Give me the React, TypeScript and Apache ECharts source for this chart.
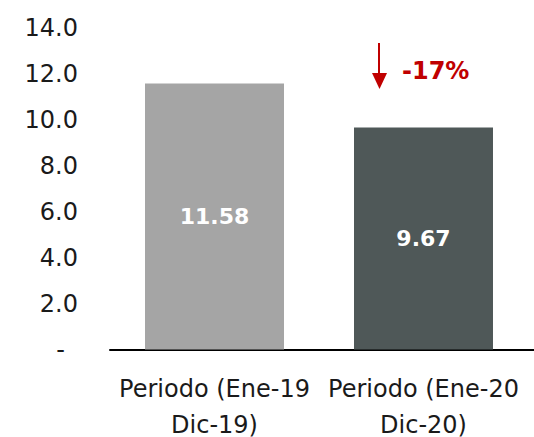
import React, { useEffect, useRef } from "react";
import * as echarts from "echarts";

const categories = ["Periodo (Ene-19\nDic-19)", "Periodo (Ene-20\nDic-20)"];
const values = [11.58, 9.67];
const barColors = ["#A5A5A5", "#4F5858"];
const yTicks = { min: 0, max: 14, interval: 2 };
const changeLabel = "-17%";

const FONT = "DejaVu Sans";

export default function App() {
  const ref = useRef<HTMLDivElement>(null);
  useEffect(() => {
    const chart = echarts.init(ref.current!, undefined, { renderer: "svg" });
    chart.setOption({
      animation: false,
      textStyle: { fontFamily: FONT },
      grid: { left: 110, right: 6, top: 28, bottom: 87.5, outerBoundsMode: "none", containLabel: false },
      xAxis: {
        type: "category",
        data: categories,
        axisLine: { lineStyle: { color: "#000", width: 2 } },
        axisTick: { show: false },
        axisLabel: { color: "#1a1a1a", fontSize: 24, lineHeight: 36, margin: 21, fontFamily: FONT, interval: 0 },
      },
      yAxis: {
        type: "value",
        min: yTicks.min,
        max: yTicks.max,
        interval: yTicks.interval,
        splitLine: { show: false },
        axisLine: { show: false },
        axisTick: { show: false },
        axisLabel: {
          color: "#1a1a1a",
          fontSize: 24,
          margin: 32,
          fontFamily: FONT,
          formatter: (v: number) => (v === 0 ? "{d|-}" : v.toFixed(1)),
          rich: { d: { fontSize: 24, color: "#1a1a1a", fontFamily: FONT, padding: [0, 13, 0, 0] } },
        },
      },
      series: [
        {
          type: "bar",
          barWidth: "66.5%",
          data: values.map((v, i) => ({ value: v, itemStyle: { color: barColors[i] } })),
          label: {
            show: true,
            position: "inside",
            color: "#fff",
            fontSize: 22,
            fontWeight: "bold",
            fontFamily: FONT,
            formatter: (p: any) => p.value.toFixed(2),
          },
        },
      ],
      graphic: [
        { type: "line", shape: { x1: 526, y1: 350, x2: 534, y2: 350 }, style: { stroke: "#000", lineWidth: 2 } },
        { type: "line", shape: { x1: 379, y1: 43, x2: 379, y2: 74 }, style: { stroke: "#C00000", lineWidth: 2 } },
        { type: "polygon", shape: { points: [[372, 73], [387, 73], [379.5, 89]] }, style: { fill: "#C00000" } },
        {
          type: "text",
          x: 402,
          y: 71,
          style: {
            text: changeLabel,
            fill: "#C00000",
            fontSize: 24,
            fontWeight: "bold",
            fontFamily: FONT,
            verticalAlign: "middle",
          },
        },
      ],
    });
    return () => chart.dispose();
  }, []);
  return <div ref={ref} style={{ position: "absolute", left: 0, top: 0, width: 534, height: 437 }} />;
}
